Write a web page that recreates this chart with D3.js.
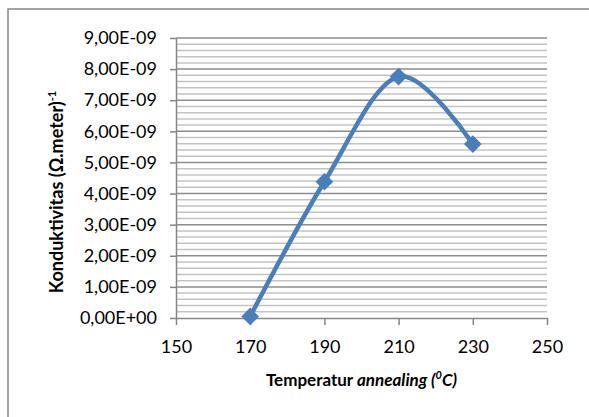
<!DOCTYPE html>
<html>
<head>
<meta charset="utf-8">
<script src="https://cdnjs.cloudflare.com/ajax/libs/d3/7.8.5/d3.min.js"></script>
<style>
  body { margin: 0; background: #fff; }
  #vis { width: 589px; height: 417px; }
  text { font-family: Lato, "Open Sans", sans-serif; fill: #000; }
</style>
</head>
<body>
<div id="vis"></div>
<script>
// data
var temps = [170, 190, 210, 230];
var conductivity = [0.05e-9, 4.38e-9, 7.76e-9, 5.59e-9];
var xTicks = [150, 170, 190, 210, 230, 250];
var yTicks = [0, 1e-9, 2e-9, 3e-9, 4e-9, 5e-9, 6e-9, 7e-9, 8e-9, 9e-9];

var width = 589, height = 417;
var plot = { left: 176, right: 547, top: 38, bottom: 318 };

var svg = d3.select('#vis')
    .append('svg')
    .attr('width', width)
    .attr('height', height);

// outer chart border (runs off the right and bottom of the picture)
svg.append('rect')
    .attr('x', 8).attr('y', 9)
    .attr('width', 700).attr('height', 600)
    .style('fill', 'white')
    .style('stroke', '#868686')
    .style('stroke-width', 1.5);

var x_scale = d3.scaleLinear()
    .domain([150, 250])
    .range([plot.left, plot.right]);

var y_scale = d3.scaleLinear()
    .domain([0, 9e-9])
    .range([plot.bottom, plot.top]);

// minor gridlines every 2E-10
var minor = d3.range(0, 45).map(function(i) { return i * 2e-10; })
    .filter(function(d, i) { return i % 5 != 0; });

svg.append('g')
    .selectAll('line')
    .data(minor)
    .enter()
    .append('line')
    .attr('x1', plot.left).attr('x2', plot.right)
    .attr('y1', function(d) { return y_scale(d); })
    .attr('y2', function(d) { return y_scale(d); })
    .style('stroke', '#c3c3c3')
    .style('stroke-width', 1.5);

svg.append('g')
    .selectAll('line')
    .data(yTicks.slice(1))
    .enter()
    .append('line')
    .attr('x1', plot.left).attr('x2', plot.right)
    .attr('y1', function(d) { return y_scale(d); })
    .attr('y2', function(d) { return y_scale(d); })
    .style('stroke', '#8c8c8c')
    .style('stroke-width', 1.5);

function fmt(v) {
    if (v == 0) return '0,00E+00';
    return (v / 1e-9).toFixed(2).replace('.', ',') + 'E-09';
}

var y_axis = d3.axisLeft(y_scale).tickValues(yTicks).tickFormat(fmt)
    .tickSizeInner(6).tickSizeOuter(0).tickPadding(13);
var x_axis = d3.axisBottom(x_scale).tickValues(xTicks).tickFormat(d3.format('d'))
    .tickSizeInner(7).tickSizeOuter(0).tickPadding(15);

var gy = svg.append('g')
    .attr('class', 'y axis')
    .attr('transform', 'translate(' + plot.left + ',0)')
    .call(y_axis);

var gx = svg.append('g')
    .attr('class', 'x axis')
    .attr('transform', 'translate(0,' + plot.bottom + ')')
    .call(x_axis);

svg.selectAll('.axis path, .axis line')
    .style('stroke', '#868686')
    .style('stroke-width', 1.5);
svg.selectAll('.axis text')
    .style('font-family', 'Lato')
    .style('font-size', '18px')
    .style('fill', '#000');

// smoothed series line
var line = d3.line()
    .x(function(d) { return x_scale(d[0]); })
    .y(function(d) { return y_scale(d[1]); })
    .curve(d3.curveCardinal.tension(0));

var points = temps.map(function(t, i) { return [t, conductivity[i]]; });

svg.append('path')
    .datum(points)
    .attr('d', line)
    .style('fill', 'none')
    .style('stroke', '#4a7ebb')
    .style('stroke-width', 4.5);

svg.append('g')
    .selectAll('path')
    .data(points)
    .enter()
    .append('path')
    .attr('d', d3.symbol().type(d3.symbolDiamond2).size(200))
    .attr('transform', function(d) {
        return 'translate(' + x_scale(d[0]) + ',' + y_scale(d[1]) + ')';
    })
    .style('fill', '#4a7ebb');

// axis titles
var xt = svg.append('text')
    .attr('x', (plot.left + plot.right) / 2)
    .attr('y', 386)
    .attr('text-anchor', 'middle')
    .style('font-size', '17px')
    .style('font-weight', 'bold');
xt.append('tspan').text('Temperatur ');
xt.append('tspan').style('font-style', 'italic').text('annealing (');
xt.append('tspan').style('font-style', 'italic').style('font-size', '11px').attr('dy', -7).text('0');
xt.append('tspan').style('font-style', 'italic').attr('dy', 7).text('C)');

var yt = svg.append('text')
    .attr('transform', 'translate(63,192)rotate(-90)')
    .attr('text-anchor', 'middle')
    .style('font-size', '18px')
    .style('font-weight', 'bold');
yt.append('tspan').text('Konduktivitas (Ω.meter)');
yt.append('tspan').style('font-size', '11px').attr('dy', -7).text('-1');
</script>
</body>
</html>
